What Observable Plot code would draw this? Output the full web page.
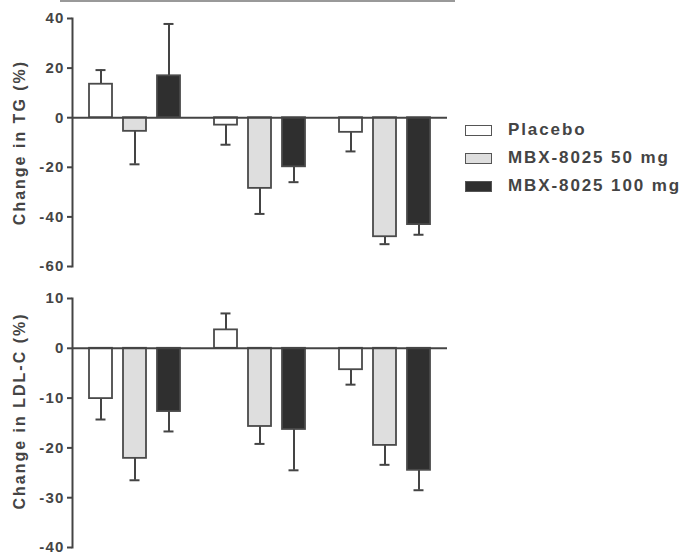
<!DOCTYPE html>
<html><head><meta charset="utf-8">
<script src="https://cdn.jsdelivr.net/npm/d3@7"></script>
<script src="https://cdn.jsdelivr.net/npm/@observablehq/plot@0.6"></script>
<style>
body{margin:0;background:#fff;font-family:"Liberation Sans",Arial,sans-serif;}
#wrap{position:relative;width:683px;height:558px;overflow:hidden;}
#topline{position:absolute;left:60px;top:0;width:395px;height:1.5px;background:#999;z-index:5;}
#top{position:absolute;left:0;top:0;}
#bottom{position:absolute;left:0;top:285px;}
#legend{position:absolute;left:465px;top:116px;color:#444;font-weight:bold;font-size:17px;letter-spacing:1.9px;}
.row{display:flex;align-items:center;height:28px;}
.sw{width:25px;height:9px;border:1.5px solid #555;margin-right:16px;}
svg text{font-weight:bold;}
g[aria-label="y-axis tick label"] text{letter-spacing:1.2px;font-size:15px;}
g[aria-label="text"] text{letter-spacing:2px;}
</style></head><body>
<div id="wrap">
<div id="top"></div>
<div id="bottom"></div>
<div id="legend"></div>
<div id="topline"></div>
</div>
<script>
const groups = ["Group 1", "Group 2", "Group 3"];
const treatments = ["Placebo", "MBX-8025 50 mg", "MBX-8025 100 mg"];
const colors = ["#ffffff", "#dedede", "#2f2f2f"];
// values per group, in treatment order
const tgMean = [13.5, -5.5, 16.9, -3.0, -28.5, -19.8, -5.9, -48.0, -43.1];
const tgErr = [5.7, 13.3, 20.9, 7.9, 10.3, 6.2, 7.7, 3.0, 4.1];
const ldlMean = [-10.1, -22.1, -12.7, 3.7, -15.7, -16.3, -4.3, -19.5, -24.5];
const ldlErr = [4.2, 4.4, 4.0, 3.3, 3.5, 8.2, 3.0, 3.9, 4.0];
const tgTicks = [40, 20, 0, -20, -40, -60];
const ldlTicks = [10, 0, -10, -20, -30, -40];

function rows(mean, err) {
  return groups.flatMap((g, i) => treatments.map((t, j) => {
    const m = mean[i * 3 + j], e = err[i * 3 + j];
    return {group: g, treatment: t, mean: m, end: m + (m >= 0 ? e : -e)};
  }));
}

function panel(data, domain, ticks, label, height, mt, mb, labelDy) {
  return Plot.plot({
    width: 455, height, marginLeft: 71, marginRight: 8, marginTop: mt, marginBottom: mb,
    style: {fontFamily: '"Liberation Sans", Arial, sans-serif', fontSize: "14px", color: "#444", background: "#fff"},
    fx: {domain: groups, padding: 0, axis: null},
    x: {domain: treatments, paddingInner: 0.333, paddingOuter: 0.483, axis: null},
    y: {domain, axis: null},
    color: {domain: treatments, range: colors},
    marks: [
      Plot.frame({anchor: "left", facetAnchor: "left", stroke: "#444", strokeWidth: 2}),
      Plot.axisY({ticks, tickFormat: d => String(d), tickSize: 5, tickPadding: 3, strokeWidth: 2, label: null, fontWeight: "bold", fontSize: 15}),
      Plot.ruleX(data, {fx: "group", x: "treatment", y1: "mean", y2: "end", stroke: "#444", strokeWidth: 2}),
      Plot.tickY(data, {fx: "group", x: "treatment", y: "end", insetLeft: 6.5, insetRight: 6.5, stroke: "#444", strokeWidth: 2}),
      Plot.barY(data, {fx: "group", x: "treatment", y: "mean", fill: "treatment", stroke: "#4a4a4a", strokeWidth: 1.8}),
      Plot.ruleY([0], {stroke: "#444", strokeWidth: 2}),
      Plot.text([label], {frameAnchor: "left", textAnchor: "middle", rotate: -90, dx: -53, dy: labelDy, fontSize: 16, fontWeight: "bold", fill: "#444", facetAnchor: "left"})
    ]
  });
}

document.getElementById("top").append(panel(rows(tgMean, tgErr), [-60, 40], tgTicks, "Change in TG (%)", 285, 18, 19, 0));
document.getElementById("bottom").append(panel(rows(ldlMean, ldlErr), [-40, 10], ldlTicks, "Change in LDL-C (%)", 273, 13, 11, -12));

const legend = d3.select("#legend");
treatments.forEach((t, i) => {
  const r = legend.append("div").attr("class", "row");
  r.append("div").attr("class", "sw").style("background", colors[i]);
  r.append("span").text(t);
});
</script>
</body></html>
